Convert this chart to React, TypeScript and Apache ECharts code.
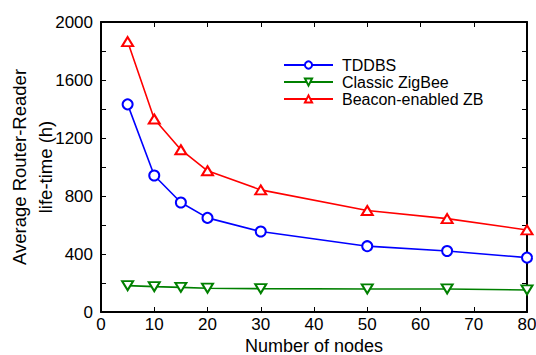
import React, { useEffect, useRef } from "react";
import * as echarts from "echarts";

const nodes = [5, 10, 15, 20, 30, 50, 65, 80];
const tddbs = [1432, 941, 755, 649, 555, 454, 421, 375];
const classicZigBee = [182, 175, 170, 164, 161, 159, 159, 152];
const beaconZB = [1865, 1331, 1119, 974, 842, 700, 644, 566];
const seriesNames = ["TDDBS", "Classic ZigBee", "Beacon-enabled ZB"];

const FONT = "'Liberation Sans', Arial, sans-serif";

export default function App() {
  const ref = useRef<HTMLDivElement>(null);
  useEffect(() => {
    if (!ref.current) return;
    const chart = echarts.init(ref.current, undefined, { renderer: "svg" });
    const pair = (ys: number[]) => nodes.map((x, i) => [x, ys[i]]);
    const axisLine = { show: true, onZero: false, lineStyle: { color: "#000", width: 2 } };
    const axisTick = { show: true, inside: true, length: 5, lineStyle: { color: "#000", width: 1 } };
    const minorTick = { show: true, splitNumber: 2, length: 5, lineStyle: { color: "#000", width: 1 } };
    const plain = (v: number) => String(v);
    chart.setOption({
      animation: false,
      backgroundColor: "#fff",
      textStyle: { fontFamily: FONT },
      grid: { left: 101, right: 9, top: 22, bottom: 43, containLabel: false, outerBoundsMode: "none" },
      legend: {
        orient: "vertical",
        left: 283,
        top: 57,
        padding: 0,
        itemWidth: 49,
        itemHeight: 9,
        itemGap: 1,
        data: seriesNames,
        textStyle: { fontFamily: FONT, fontSize: 16, color: "#000", padding: [0, 0, 0, 4] },
      },
      xAxis: [
        {
          type: "value",
          min: 0,
          max: 80,
          interval: 10,
          name: "Number of nodes",
          nameLocation: "middle",
          nameGap: 25,
          nameMoveOverlap: false,
          nameTextStyle: { fontFamily: FONT, fontSize: 18, color: "#000" },
          axisLabel: { fontFamily: FONT, fontSize: 17, color: "#000", margin: 4, formatter: plain },
          axisLine,
          axisTick,
          splitLine: { show: false },
        },
        {
          type: "value",
          position: "top",
          min: 0,
          max: 80,
          interval: 10,
          axisLabel: { show: false },
          axisLine,
          axisTick,
          splitLine: { show: false },
        },
      ],
      yAxis: [
        {
          type: "value",
          min: 0,
          max: 2000,
          interval: 400,
          name: "Average Router-Reader\nlife-time (h)",
          nameLocation: "middle",
          nameRotate: 90,
          nameGap: 43,
          nameMoveOverlap: false,
          nameTextStyle: { fontFamily: FONT, fontSize: 18.5, color: "#000", lineHeight: 26 },
          axisLabel: { fontFamily: FONT, fontSize: 17, color: "#000", margin: 8, formatter: plain },
          axisLine,
          axisTick,
          minorTick,
          splitLine: { show: false },
        },
        {
          type: "value",
          position: "right",
          min: 0,
          max: 2000,
          interval: 400,
          axisLabel: { show: false },
          axisLine,
          axisTick,
          minorTick,
          splitLine: { show: false },
        },
      ],
      series: [
        {
          name: seriesNames[0],
          type: "line",
          data: pair(tddbs),
          symbol: "emptyCircle",
          symbolSize: 10,
          lineStyle: { color: "#0000ff", width: 1.6 },
          itemStyle: { color: "#0000ff", borderWidth: 1.6 },
        },
        {
          name: seriesNames[1],
          type: "line",
          data: pair(classicZigBee),
          symbol: "emptyTriangle",
          symbolRotate: 180,
          symbolSize: [11, 9],
          lineStyle: { color: "#008000", width: 1.6 },
          itemStyle: { color: "#008000", borderWidth: 1.6 },
        },
        {
          name: seriesNames[2],
          type: "line",
          data: pair(beaconZB),
          symbol: "emptyTriangle",
          symbolSize: [11, 9],
          lineStyle: { color: "#ff0000", width: 1.6 },
          itemStyle: { color: "#ff0000", borderWidth: 1.6 },
        },
      ],
    });
    return () => chart.dispose();
  }, []);
  return <div ref={ref} style={{ width: 536, height: 355, position: "absolute", left: 0, top: 0 }} />;
}
